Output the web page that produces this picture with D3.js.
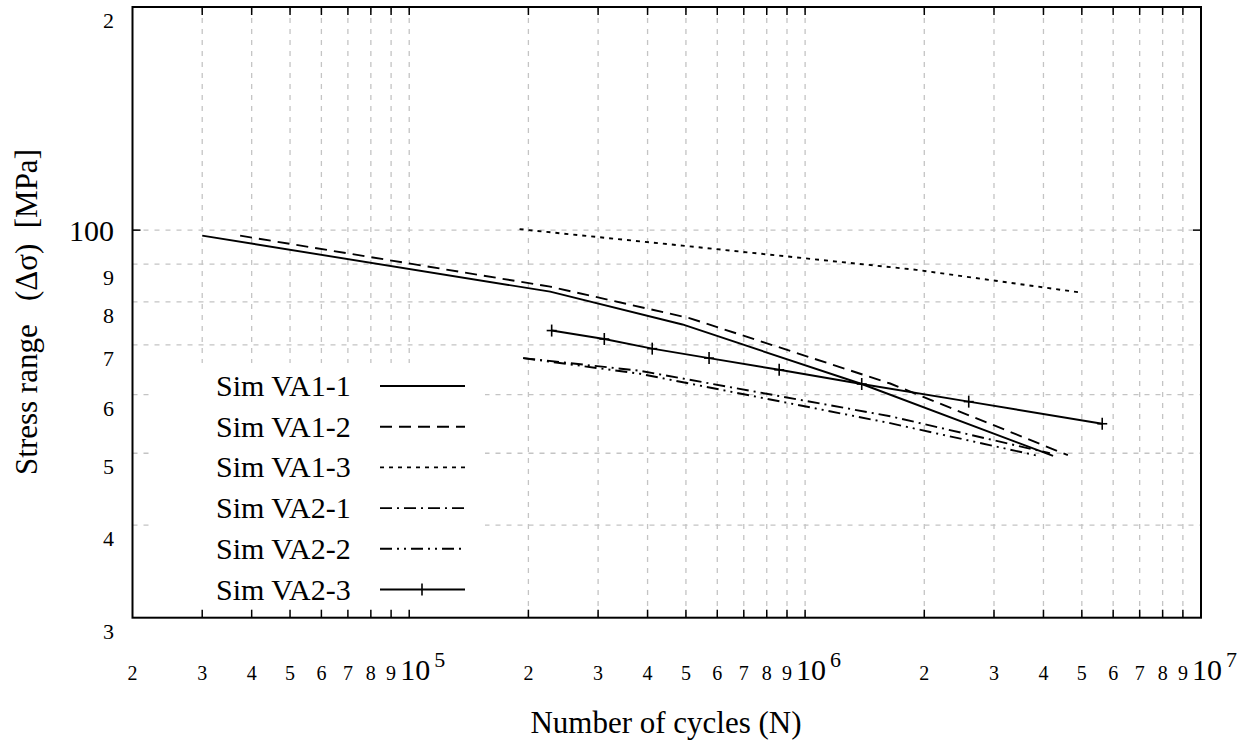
<!DOCTYPE html>
<html>
<head>
<meta charset="utf-8">
<script src="https://cdn.jsdelivr.net/npm/d3@7"></script>
<style>
  body { margin: 0; background: #fff; }
  text { font-family: "Liberation Serif", "Times New Roman", serif; fill: #000; }
</style>
</head>
<body>
<div id="vis"></div>
<script>
// series names, in legend order
const seriesNames = ["Sim VA1-1", "Sim VA1-2", "Sim VA1-3", "Sim VA2-1", "Sim VA2-2", "Sim VA2-3"]

// number of cycles (N) and stress range (MPa)
const va11N = [3.0e4, 2.27e5, 4.9e5, 1.39e6, 4.23e6]
const va11S = [98.3, 82.6, 74.6, 62.0, 49.6]

const va12N = [3.74e4, 2.27e5, 5.1e5, 1.64e6, 4.61e6]
const va12S = [98.3, 83.9, 76.1, 62.1, 49.7]

const va13N = [1.9e5, 4.9e5, 1.91e6, 4.95e6]
const va13S = [100.3, 95.3, 88.4, 82.4]

const va21N = [1.94e5, 3.83e5, 1.64e6, 4.15e6]
const va21S = [67.2, 64.6, 56.1, 50.0]

const va22N = [1.94e5, 3.83e5, 1.64e6, 3.88e6]
const va22S = [67.2, 64.0, 54.9, 49.6]

const va23N = [2.29e5, 3.11e5, 4.11e5, 5.72e5, 8.6e5, 1.39e6, 2.59e6, 5.63e6]
const va23S = [73.2, 71.3, 69.2, 67.2, 64.8, 62.0, 58.7, 54.8]

// tick values
const xMinorMant = [2, 3, 4, 5, 6, 7, 8, 9]
const xDecades = [4, 5, 6]
const xMajorExp = [5, 6, 7]
const yMinorTicks = [30, 40, 50, 60, 70, 80, 90, 200]
const yMajorTicks = [100]

const width = 1251
const height = 742
const plotLeft = 132.5, plotRight = 1201, plotTop = 7, plotBottom = 617.7

const svg = d3.select("#vis")
    .append("svg")
    .attr("width", width)
    .attr("height", height)
    .attr("font-family", "'Liberation Serif', 'Times New Roman', serif")

const x = d3.scaleLog().domain([2e4, 1e7]).range([plotLeft, plotRight])
const y = d3.scaleLog().domain([30, 200]).range([plotBottom, plotTop])

// all x tick positions (minor 2..9 in each decade + powers of ten)
const xMinorTicks = []
xDecades.forEach(d => xMinorMant.forEach(m => xMinorTicks.push({ v: m * Math.pow(10, d), m: m })))
const xTicks = xMinorTicks.map(t => t.v).concat(xMajorExp.map(e => Math.pow(10, e)))
const xTicksIn = xTicks.filter(v => v > 2e4 * 1.001 && v < 1e7 * 0.999)

//grid lines, light grey dashes
const grid = svg.append("g")
    .attr("stroke", "#c4c4c4")
    .attr("stroke-width", 1.3)
    .attr("stroke-dasharray", "5,6")

grid.selectAll(".vx")
    .data(xTicksIn)
    .enter()
    .append("line")
    .attr("x1", d => x(d)).attr("x2", d => x(d))
    .attr("y1", plotTop).attr("y2", plotBottom)

grid.selectAll(".hy")
    .data(yMinorTicks.concat(yMajorTicks).filter(v => v > 30 && v < 200))
    .enter()
    .append("line")
    .attr("x1", plotLeft).attr("x2", plotRight)
    .attr("y1", d => y(d)).attr("y2", d => y(d))

// legend background covers the grid
svg.append("rect")
    .attr("x", 150).attr("y", 363)
    .attr("width", 335).attr("height", plotBottom - 364)
    .attr("fill", "#fff")

// border
svg.append("rect")
    .attr("x", plotLeft).attr("y", plotTop)
    .attr("width", plotRight - plotLeft).attr("height", plotBottom - plotTop)
    .attr("fill", "none")
    .attr("stroke", "#000")
    .attr("stroke-width", 2)

// ticks
const ticks = svg.append("g").attr("stroke", "#000").attr("stroke-width", 1.5)
xTicksIn.forEach(v => {
    ticks.append("line").attr("x1", x(v)).attr("x2", x(v)).attr("y1", plotBottom).attr("y2", plotBottom - 8)
    ticks.append("line").attr("x1", x(v)).attr("x2", x(v)).attr("y1", plotTop).attr("y2", plotTop + 8)
})
yMajorTicks.forEach(v => {
    ticks.append("line").attr("x1", plotLeft).attr("x2", plotLeft + 8).attr("y1", y(v)).attr("y2", y(v))
    ticks.append("line").attr("x1", plotRight).attr("x2", plotRight - 8).attr("y1", y(v)).attr("y2", y(v))
})

// x tick labels
xMinorTicks.forEach(t => {
    svg.append("text")
        .attr("x", x(t.v)).attr("y", 680)
        .attr("text-anchor", "middle")
        .attr("font-size", 20)
        .text(t.m)
})
xMajorExp.forEach(e => {
    const t = svg.append("text")
        .attr("x", x(Math.pow(10, e)) - 9).attr("y", 680)
        .attr("font-size", 30)
    t.append("tspan").text("10")
    t.append("tspan").attr("font-size", 22).attr("dx", 4).attr("dy", -13).text(e)
})

// y tick labels
yMinorTicks.forEach(v => {
    svg.append("text")
        .attr("x", 114).attr("y", y(v) + 21)
        .attr("text-anchor", "end")
        .attr("font-size", 22)
        .text(v >= 100 ? v / 100 : v / 10)
})
yMajorTicks.forEach(v => {
    svg.append("text")
        .attr("x", 114).attr("y", y(v) + 11)
        .attr("text-anchor", "end")
        .attr("font-size", 30)
        .text(v)
})

// axis titles
svg.append("text")
    .attr("x", 666).attr("y", 733)
    .attr("text-anchor", "middle")
    .attr("font-size", 31)
    .text("Number of cycles (N)")

svg.append("text")
    .attr("transform", "translate(37,312) rotate(-90)")
    .attr("text-anchor", "middle")
    .attr("font-size", 31)
    .style("white-space", "pre")
    .text("Stress range   (Δσ)  [MPa]")

// series
const dashes = [null, "12,7", "4,5", "12,5,2,5", "12,5,2,5,2,5", null]
const seriesN = [va11N, va12N, va13N, va21N, va22N, va23N]
const seriesS = [va11S, va12S, va13S, va21S, va22S, va23S]

const line = d3.line()
    .x(d => x(d[0]))
    .y(d => y(d[1]))

seriesNames.forEach((name, i) => {
    const pts = seriesN[i].map((n, j) => [n, seriesS[i][j]])
    svg.append("path")
        .attr("d", line(pts))
        .attr("fill", "none")
        .attr("stroke", "#000")
        .attr("stroke-width", 1.9)
        .attr("stroke-dasharray", dashes[i])
})

// + markers on VA2-3
const markers = svg.append("g").attr("stroke", "#000").attr("stroke-width", 1.6)
va23N.forEach((n, j) => {
    const cx = x(n), cy = y(va23S[j])
    markers.append("line").attr("x1", cx - 5).attr("x2", cx + 5).attr("y1", cy).attr("y2", cy)
    markers.append("line").attr("x1", cx).attr("x2", cx).attr("y1", cy - 6).attr("y2", cy + 6)
})

// legend
const legend = svg.append("g")
seriesNames.forEach((name, i) => {
    const ly = 386 + i * 40.7
    legend.append("text")
        .attr("x", 216).attr("y", ly + 10)
        .attr("font-size", 30)
        .text(name)
    legend.append("line")
        .attr("x1", 380).attr("x2", 465)
        .attr("y1", ly).attr("y2", ly)
        .attr("stroke", "#000")
        .attr("stroke-width", 1.9)
        .attr("stroke-dasharray", dashes[i])
    if (i === 5) {
        legend.append("line").attr("x1", 422).attr("x2", 422).attr("y1", ly - 6).attr("y2", ly + 6)
            .attr("stroke", "#000").attr("stroke-width", 1.6)
    }
})
</script>
</body>
</html>
